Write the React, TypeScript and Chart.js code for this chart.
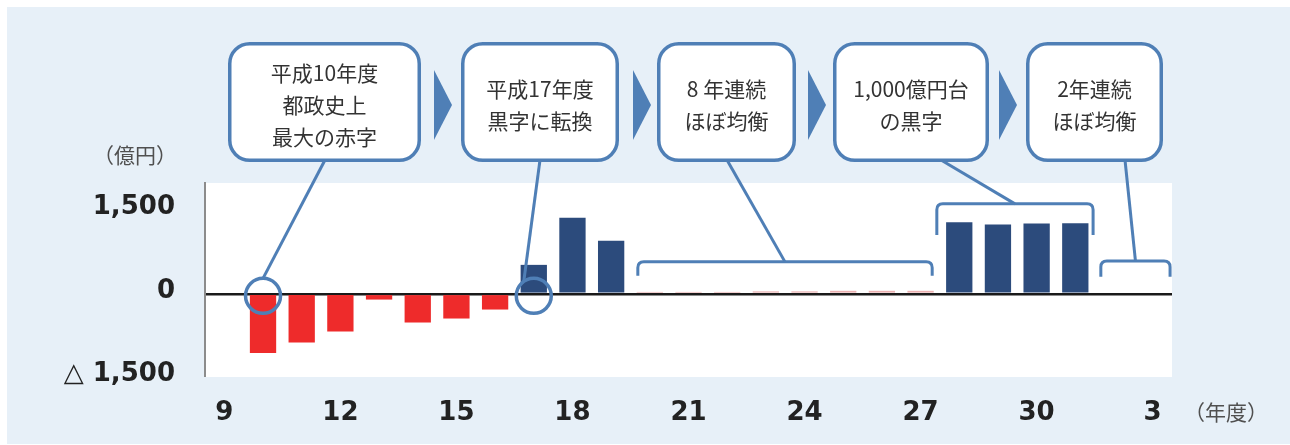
import { useEffect, useRef } from 'react';
import { Chart, registerables } from 'chart.js';

Chart.register(...registerables);

// ---- data ----
const YEAR_LABELS = [
  '9', '10', '11', '12', '13', '14', '15', '16', '17', '18', '19', '20', '21',
  '22', '23', '24', '25', '26', '27', '28', '29', '30', '元', '2', '3',
];
const BALANCE = [
  0, -1068, -877, -680, -103, -517, -445, -283, 523, 1371, 956,
  35, 35, 35, 45, 45, 55, 55, 55, 1293, 1250, 1268, 1275, 0, 0,
];
const SHOWN_YEAR_TICKS = ['9', '12', '15', '18', '21', '24', '27', '30', '3'];
const Y_TICK_VALUES = [-1500, 0, 1500];
const Y_TICK_LABELS = ['△ 1,500', '0', '1,500'];
const Y_UNIT = '（億円）';
const X_UNIT = '（年度）';
const CALLOUT_TEXTS = [
  ['平成10年度', '都政史上', '最大の赤字'],
  ['平成17年度', '黒字に転換'],
  ['8 年連続', 'ほぼ均衡'],
  ['1,000億円台', 'の黒字'],
  ['2年連続', 'ほぼ均衡'],
];

// ---- styles / layout ----
const RED = '#ee2b2b';
const NAVY = '#2c4b7c';
const PINK = '#eab0b0';
const BLUE = '#4f7fb6';
const PANEL = '#e7f0f8';
const TEXT = '#333333';
const CJK = '"Noto Sans CJK JP", "Noto Sans", sans-serif';
const NUM = '"DejaVu Sans", sans-serif';

// boxes: outer left/right edges in px, attach x for leader line
const BOX_LAYOUT = [
  { l: 228, r: 421, attach: 325 },
  { l: 461, r: 619, attach: 540 },
  { l: 657, r: 796, attach: 727 },
  { l: 833, r: 989, attach: 941 },
  { l: 1026, r: 1163, attach: 1125 },
];
const BOX_TOP = 42;
const BOX_BOTTOM = 162;
const ARROW_X = [434, 633, 808, 999];

// anchors in data units (category index / value)
const CIRCLES = [
  { idx: 1, angle: -90 },
  { idx: 8, angle: -125 },
];
const BRACES = [
  { from: 10.69, to: 18.3, top: 577, end: 325 },
  { from: 18.42, to: 22.46, top: 1624, end: 1064 },
  { from: 22.66, to: 24.45, top: 595, end: 307 },
];

const barColor = (v: number) => (v < 0 ? RED : v >= 300 ? NAVY : PINK);

const decorPlugin = {
  id: 'decor',
  beforeDraw(chart: any) {
    const { ctx, chartArea } = chart;
    ctx.save();
    ctx.fillStyle = PANEL;
    ctx.fillRect(7, 7, chart.width - 7, chart.height - 8);
    ctx.fillStyle = '#ffffff';
    ctx.fillRect(chartArea.left, chartArea.top, chartArea.right - chartArea.left, chartArea.bottom - chartArea.top);
    ctx.restore();
  },
  afterDraw(chart: any) {
    const { ctx } = chart;
    const xs = chart.scales.x;
    const ys = chart.scales.y;
    const R = 17.5;
    ctx.save();
    ctx.strokeStyle = BLUE;
    ctx.lineCap = 'butt';

    // circles
    const circleCenters = CIRCLES.map((c) => {
      const cx = xs.getPixelForValue(c.idx);
      const cy = ys.getPixelForValue(0) + 2;
      const a = (c.angle * Math.PI) / 180;
      return { cx, cy, ex: cx + R * Math.cos(a), ey: cy + R * Math.sin(a) };
    });
    // braces
    const braceTops = BRACES.map((b) => {
      const x1 = xs.getPixelForValue(b.from);
      const x2 = xs.getPixelForValue(b.to);
      return { x1, x2, yt: ys.getPixelForValue(b.top), ye: ys.getPixelForValue(b.end) };
    });

    // leader lines
    const targets = [
      { x: circleCenters[0].ex, y: circleCenters[0].ey },
      { x: circleCenters[1].ex, y: circleCenters[1].ey },
      { x: (braceTops[0].x1 + braceTops[0].x2) / 2, y: braceTops[0].yt },
      { x: (braceTops[1].x1 + braceTops[1].x2) / 2, y: braceTops[1].yt },
      { x: (braceTops[2].x1 + braceTops[2].x2) / 2, y: braceTops[2].yt },
    ];
    ctx.lineWidth = 3;
    BOX_LAYOUT.forEach((b, i) => {
      ctx.beginPath();
      ctx.moveTo(b.attach, BOX_BOTTOM - 2);
      ctx.lineTo(targets[i].x, targets[i].y);
      ctx.stroke();
    });

    // braces
    braceTops.forEach((b) => {
      const r = 6;
      ctx.beginPath();
      ctx.moveTo(b.x1, b.ye);
      ctx.lineTo(b.x1, b.yt + r);
      ctx.quadraticCurveTo(b.x1, b.yt, b.x1 + r, b.yt);
      ctx.lineTo(b.x2 - r, b.yt);
      ctx.quadraticCurveTo(b.x2, b.yt, b.x2, b.yt + r);
      ctx.lineTo(b.x2, b.ye);
      ctx.stroke();
    });

    // circles
    ctx.lineWidth = 3.5;
    circleCenters.forEach((c) => {
      ctx.beginPath();
      ctx.arc(c.cx, c.cy, R, 0, Math.PI * 2);
      ctx.stroke();
    });

    // boxes
    const lw = 3.5;
    BOX_LAYOUT.forEach((b, i) => {
      ctx.beginPath();
      ctx.roundRect(b.l + lw / 2, BOX_TOP + lw / 2, b.r - b.l - lw, BOX_BOTTOM - BOX_TOP - lw, 20);
      ctx.fillStyle = '#ffffff';
      ctx.fill();
      ctx.lineWidth = lw;
      ctx.stroke();
      const lines = CALLOUT_TEXTS[i];
      ctx.fillStyle = TEXT;
      ctx.font = `21px ${CJK}`;
      ctx.textAlign = 'center';
      ctx.textBaseline = 'middle';
      const cx = (b.l + b.r) / 2;
      const lh = 32;
      const y0 = 105 - ((lines.length - 1) * lh) / 2;
      lines.forEach((t, k) => ctx.fillText(t, cx, y0 + k * lh));
    });

    // arrows
    ctx.fillStyle = BLUE;
    ARROW_X.forEach((x) => {
      ctx.beginPath();
      ctx.moveTo(x, 70);
      ctx.lineTo(x + 18, 105);
      ctx.lineTo(x, 140);
      ctx.closePath();
      ctx.fill();
    });

    // unit labels
    ctx.fillStyle = '#505050';
    ctx.font = `21px ${CJK}`;
    ctx.textAlign = 'center';
    ctx.textBaseline = 'middle';
    ctx.fillText(Y_UNIT, 135, 155);
    ctx.fillText(X_UNIT, 1226, 412);
    ctx.restore();
  },
};

export default function App() {
  const ref = useRef<HTMLCanvasElement>(null);
  useEffect(() => {
    document.body.style.margin = '0';
    const chart = new Chart(ref.current as HTMLCanvasElement, {
      type: 'bar',
      data: {
        labels: YEAR_LABELS,
        datasets: [
          {
            data: BALANCE,
            backgroundColor: (c: any) => barColor(c.raw as number),
            borderWidth: 0,
            barPercentage: 0.68,
            categoryPercentage: 1,
          },
        ],
      },
      options: {
        responsive: true,
        maintainAspectRatio: false,
        animation: false,
        layout: { padding: { top: 183, right: 118, bottom: 0, left: 0 } },
        plugins: { legend: { display: false }, tooltip: { enabled: false } },
        scales: {
          x: {
            grid: { display: false, drawTicks: false },
            border: { display: false },
            ticks: {
              autoSkip: false,
              maxRotation: 0,
              padding: 21,
              color: '#222222',
              font: { family: NUM, size: 26, weight: 'bold' },
              callback: (_v: any, i: number) =>
                SHOWN_YEAR_TICKS.includes(YEAR_LABELS[i]) ? YEAR_LABELS[i] : '',
            },
            afterFit: (s: any) => {
              s.height = 68;
            },
          },
          y: {
            min: -1500,
            max: 2000,
            z: 1,
            afterBuildTicks: (s: any) => {
              s.ticks = Y_TICK_VALUES.map((v) => ({ value: v }));
            },
            afterFit: (s: any) => {
              s.width = 205;
            },
            grid: {
              drawTicks: false,
              color: (c: any) => (c.tick && c.tick.value === 0 ? '#1a1a1a' : 'rgba(0,0,0,0)'),
              lineWidth: (c: any) => (c.tick && c.tick.value === 0 ? 2.5 : 0),
            },
            border: { display: true, color: '#8c8c8c', width: 2 },
            ticks: {
              padding: 30,
              labelOffset: -3,
              color: '#222222',
              font: { family: NUM, size: 26, weight: 'bold' },
              callback: (v: any) => Y_TICK_LABELS[Y_TICK_VALUES.indexOf(Number(v))] ?? '',
            },
          },
        },
      },
      plugins: [decorPlugin],
    } as any);
    return () => chart.destroy();
  }, []);
  return (
    <div style={{ width: 1290, height: 445, position: 'relative' }}>
      <canvas ref={ref} />
    </div>
  );
}
